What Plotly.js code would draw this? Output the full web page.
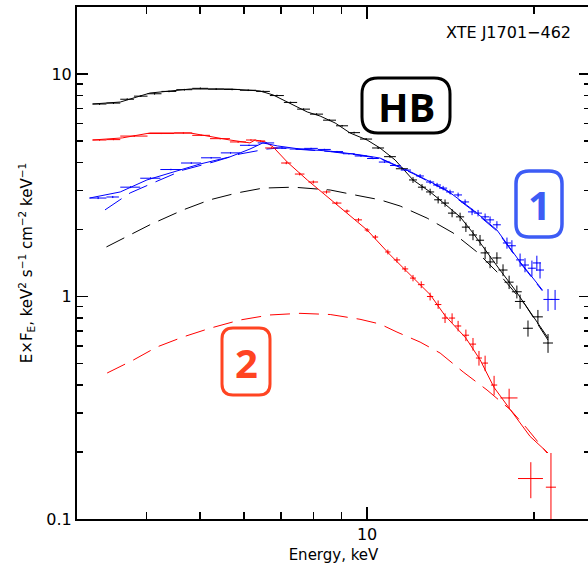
<!DOCTYPE html>
<html><head><meta charset="utf-8">
<script src="https://cdn.plot.ly/plotly-3.0.1.min.js"></script>
<style>html,body{margin:0;padding:0;overflow:hidden;background:#fff}#chart{width:592px;height:567px}</style>
</head><body><div id="chart"></div>
<script>
// ---- HB spectrum (black) ----
const E_hb = [3.295,3.49,3.695,3.91,4.14,4.395,4.685,5.005,5.345,5.71,6.105,6.495,6.88,7.28,7.685,8.11,8.56,9.015,9.475,9.96,10.47,11.0,11.56,12.10,12.56,12.99,13.43,13.82,14.23,14.71,15.07,15.52,15.98,16.32,16.66,17.14,17.58,18.03,18.62,18.87,19.50,20.32,21.19];
const dE_hb = [0.095,0.10,0.105,0.11,0.12,0.135,0.155,0.165,0.175,0.19,0.205,0.185,0.20,0.20,0.205,0.22,0.23,0.225,0.235,0.25,0.26,0.27,0.29,0.2,0.21,0.22,0.22,0.23,0.24,0.25,0.25,0.26,0.27,0.3,0.3,0.32,0.33,0.34,0.38,0.4,0.4,0.42,0.44];
const F_hb = [7.33,7.40,7.70,7.95,8.15,8.35,8.50,8.62,8.55,8.52,8.45,8.35,8.0,7.45,6.95,6.60,6.20,5.85,5.45,5.10,4.65,4.25,3.75,3.34,3.10,2.95,2.72,2.63,2.37,2.28,2.05,1.89,1.79,1.57,1.43,1.49,1.315,1.16,1.05,0.95,0.72,0.81,0.618];
const dF_hb = [0.07,0.07,0.07,0.07,0.07,0.07,0.07,0.07,0.07,0.07,0.07,0.07,0.07,0.06,0.06,0.06,0.06,0.05,0.05,0.05,0.05,0.05,0.05,0.1,0.1,0.1,0.1,0.1,0.1,0.1,0.1,0.1,0.1,0.1,0.09,0.09,0.08,0.08,0.07,0.07,0.06,0.06,0.06];
const Em_hb = [3.20,3.59,4.06,4.80,5.66,6.41,6.77,7.26,7.80,8.23,8.76,9.32,10.0,10.55,11.23,12.10,12.99,13.82,14.71,15.52,16.38,17.36,18.48,19.67,21.19];
const Fm_hb = [7.33,7.48,8.21,8.56,8.56,8.39,8.05,7.41,6.75,6.47,6.02,5.43,5.05,4.65,4.11,3.34,2.95,2.60,2.28,1.93,1.60,1.315,1.07,0.852,0.651];
const Ec_hb = [3.39,4.06,4.66,5.21,5.83,6.49,7.36,8.58,9.71,10.55,11.47,12.83,14.29,15.78,17.36,19.26,21.19];
const Fc_hb = [1.67,2.10,2.45,2.72,2.92,3.07,3.10,3.01,2.83,2.72,2.55,2.25,1.93,1.585,1.25,0.92,0.637];

// ---- state 1 (blue) ----
const E_1 = [3.275,3.48,3.745,4.07,4.43,4.82,5.235,5.675,6.125,6.575,7.025,7.475,7.925,8.375,8.825,9.275,9.75,10.25,10.75,11.25,11.75,12.46,12.99,13.37,13.71,14.11,14.59,15.02,15.46,15.85,16.32,16.66,17.14,17.87,18.24,18.87,19.26,19.82,20.23,20.50,21.19,21.82];
const dE_1 = [0.115,0.09,0.155,0.17,0.19,0.20,0.215,0.225,0.225,0.225,0.225,0.225,0.225,0.225,0.225,0.225,0.25,0.25,0.25,0.25,0.25,0.2,0.22,0.22,0.23,0.23,0.24,0.25,0.26,0.26,0.27,0.28,0.28,0.3,0.3,0.31,0.32,0.33,0.34,0.34,0.4,0.4];
const F_1 = [2.77,2.80,3.10,3.40,3.72,3.98,4.20,4.42,4.78,4.90,4.65,4.60,4.63,4.58,4.48,4.38,4.28,4.17,4.02,3.88,3.70,3.48,3.27,3.17,3.07,2.95,2.86,2.66,2.40,2.37,2.28,2.21,2.10,1.74,1.69,1.46,1.385,1.34,1.415,1.315,0.97,0.97];
const dF_1 = [0.03,0.03,0.03,0.03,0.03,0.03,0.03,0.03,0.03,0.03,0.03,0.03,0.03,0.03,0.03,0.03,0.03,0.03,0.03,0.03,0.03,0.07,0.07,0.07,0.07,0.07,0.07,0.07,0.08,0.08,0.08,0.08,0.08,0.1,0.1,0.1,0.1,0.11,0.11,0.11,0.11,0.1];
const Em_1 = [3.16,3.59,4.01,4.51,5.0,5.66,6.15,6.49,6.89,7.57,8.58,9.71,10.55,12.10,13.93,15.52,17.14,18.87,20.7];
const Fm_1 = [2.77,2.95,3.34,3.66,3.94,4.24,4.6,4.9,4.75,4.6,4.5,4.33,4.19,3.59,3.0,2.45,1.99,1.43,1.07];
const Ec_1 = [3.37,3.74,4.15,4.66,5.28,5.90,6.60,6.97,7.57,8.58,9.71,10.55,12.10,13.93,15.52,17.14,18.87,20.7];
const Fc_1 = [2.45,2.92,3.27,3.70,4.02,4.37,4.60,4.65,4.58,4.48,4.31,4.17,3.57,2.98,2.43,1.97,1.42,1.06];

// ---- state 2 (red) ----
const E_2 = [3.295,3.49,3.805,4.255,4.665,5.025,5.435,5.855,6.175,6.425,6.725,7.15,7.56,8.00,8.45,8.82,9.20,9.65,10.0,10.35,10.9,11.32,11.71,12.10,12.52,12.99,13.43,13.82,14.23,14.59,15.07,15.52,15.91,16.32,16.94,18.03,19.73,21.45];
const dE_2 = [0.095,0.10,0.215,0.235,0.175,0.185,0.225,0.195,0.125,0.125,0.175,0.15,0.15,0.16,0.14,0.17,0.10,0.14,0.10,0.12,0.12,0.15,0.15,0.15,0.17,0.17,0.18,0.18,0.18,0.19,0.2,0.2,0.2,0.2,0.22,0.64,1.02,0.45];
const F_2 = [5.05,5.07,5.26,5.40,5.43,5.30,5.12,4.95,5.05,5.00,4.65,3.98,3.55,3.27,2.95,2.63,2.42,2.21,1.99,1.85,1.585,1.46,1.33,1.21,1.13,1.00,0.92,0.80,0.80,0.737,0.67,0.611,0.529,0.502,0.40,0.35,0.152,0.139];
const dFup_2 = [0.03,0.03,0.03,0.03,0.03,0.03,0.03,0.03,0.03,0.03,0.03,0.05,0.05,0.05,0.05,0.04,0.04,0.04,0.04,0.04,0.04,0.04,0.04,0.04,0.04,0.04,0.04,0.04,0.04,0.04,0.04,0.04,0.04,0.04,0.04,0.035,0.028,0.059];
const dFdn_2 = [0.03,0.03,0.03,0.03,0.03,0.03,0.03,0.03,0.03,0.03,0.03,0.05,0.05,0.05,0.05,0.04,0.04,0.04,0.04,0.04,0.04,0.04,0.04,0.04,0.04,0.04,0.04,0.04,0.04,0.04,0.04,0.04,0.04,0.04,0.04,0.035,0.028,0.1];
const Em_2 = [3.20,3.62,4.06,4.80,5.66,6.15,6.28,6.55,6.77,7.18,7.80,8.58,9.32,10.0,11.0,12.10,12.99,13.82,15.07,15.98,16.94,18.12,19.67,21.19];
const Fm_2 = [5.05,5.16,5.43,5.43,5.05,4.9,5.05,4.95,4.70,4.02,3.34,2.74,2.32,1.99,1.54,1.21,1.02,0.82,0.65,0.52,0.39,0.31,0.235,0.198];
const Ec_2 = [3.40,3.79,4.18,4.66,5.21,5.90,6.68,7.57,8.58,9.71,10.55,11.32,12.46,13.54,14.9,16.45,18.12,19.4,21.1];
const Fc_2 = [0.453,0.518,0.593,0.658,0.72,0.784,0.826,0.84,0.83,0.79,0.752,0.692,0.624,0.557,0.458,0.38,0.31,0.256,0.198];

// ---- axes ----
const xTickVals = [10];
const xTickText = ['10'];
const xMinorVals = [3,4,5,6,7,8,9,20];
const yTickVals = [0.1,1,10];
const yTickText = ['0.1','1','10'];
const yMinorVals = [0.2,0.3,0.4,0.5,0.6,0.7,0.8,0.9,2,3,4,5,6,7,8,9,20];

const BLACK='#000000', RED='#ff0000', BLUE='#0000ff';

function dataTrace(E,F,dE,dFp,dFm,color){
  return {x:E,y:F,type:'scatter',mode:'markers',marker:{size:1,color:color},
    error_x:{type:'data',array:dE,symmetric:true,color:color,thickness:1,width:0},
    error_y:{type:'data',array:dFp,arrayminus:dFm,symmetric:false,color:color,thickness:1,width:0},
    hoverinfo:'skip',showlegend:false};
}
function lineTrace(E,F,color,dash){
  return {x:E,y:F,type:'scatter',mode:'lines',line:{color:color,width:1,dash:dash||'solid'},hoverinfo:'skip',showlegend:false};
}
const DASH='20px,9px';
const traces = [
  lineTrace(Ec_2,Fc_2,RED,DASH),
  lineTrace(Ec_hb,Fc_hb,BLACK,DASH),
  lineTrace(Ec_1,Fc_1,BLUE,DASH),
  lineTrace(Em_2,Fm_2,RED),
  lineTrace(Em_hb,Fm_hb,BLACK),
  lineTrace(Em_1,Fm_1,BLUE),
  dataTrace(E_2,F_2,dE_2,dFup_2,dFdn_2,RED),
  dataTrace(E_hb,F_hb,dE_hb,dF_hb,dF_hb,BLACK),
  dataTrace(E_1,F_1,dE_1,dF_1,dF_1,BLUE)
];

// plot area in pixels: x 77..590, y 7..519
const PL=77, PR=590, PT=7, PB=519;
function px(x){return (x-PL)/(PR-PL);}
function py(y){return (PB-y)/(PB-PT);}
function roundRect(x0,y0,x1,y1,r){
  const P=(x,y)=>px(x).toFixed(5)+','+py(y).toFixed(5);
  return 'M'+P(x0+r,y0)+' L'+P(x1-r,y0)+' Q'+P(x1,y0)+' '+P(x1,y0+r)+
    ' L'+P(x1,y1-r)+' Q'+P(x1,y1)+' '+P(x1-r,y1)+
    ' L'+P(x0+r,y1)+' Q'+P(x0,y1)+' '+P(x0,y1-r)+
    ' L'+P(x0,y0+r)+' Q'+P(x0,y0)+' '+P(x0+r,y0)+' Z';
}
const C1='#3d5cf5', C2='#ff4422';
const shapes = [
  {type:'path',xref:'paper',yref:'paper',path:roundRect(362,78,450,133,16),line:{color:'#000',width:3},fillcolor:'rgba(255,255,255,0)'},
  {type:'path',xref:'paper',yref:'paper',path:roundRect(516,171,562,237,13),line:{color:C1,width:3.5},fillcolor:'rgba(255,255,255,0)'},
  {type:'path',xref:'paper',yref:'paper',path:roundRect(222,328,270,395,11),line:{color:C2,width:3},fillcolor:'rgba(255,255,255,0)'}
];
const annotations = [
  {xref:'paper',yref:'paper',x:px(573),y:py(32),xanchor:'right',yanchor:'middle',showarrow:false,text:'XTE J1701\u2212462',font:{family:'DejaVu Sans',size:16,color:'#000'}},
  {xref:'paper',yref:'paper',x:px(406),y:py(106),xanchor:'center',yanchor:'middle',showarrow:false,text:'HB',font:{family:'Open Sans',size:40,weight:700,color:'#000'}},
  {xref:'paper',yref:'paper',x:px(539),y:py(204),xanchor:'center',yanchor:'middle',showarrow:false,text:'1',font:{family:'Open Sans',size:40,weight:700,color:C1}},
  {xref:'paper',yref:'paper',x:px(246),y:py(362),xanchor:'center',yanchor:'middle',showarrow:false,text:'2',font:{family:'Open Sans',size:40,weight:700,color:C2}}
];
const axisCommon = {type:'log',showgrid:false,zeroline:false,showline:true,linecolor:'#000',linewidth:2,
  mirror:'allticks',ticks:'inside',tickwidth:1.5,tickcolor:'#000',tickmode:'array',
  tickfont:{family:'DejaVu Sans',size:16,color:'#000'}};
const layout = {
  width:592,height:567,margin:{l:PL,r:592-PR,t:PT,b:567-PB},
  paper_bgcolor:'#fff',plot_bgcolor:'#fff',showlegend:false,
  xaxis:Object.assign({},axisCommon,{range:[Math.log10(3),1.4018],tickvals:xTickVals,ticktext:xTickText,ticklen:12,
    minor:{tickmode:'array',tickvals:xMinorVals,ticklen:7,tickwidth:1.5,tickcolor:'#000',ticks:'inside',showgrid:false},
    title:{text:'Energy, keV',font:{family:'DejaVu Sans',size:15,color:'#000'},standoff:6}}),
  yaxis:Object.assign({},axisCommon,{range:[-1,Math.log10(20)],tickvals:yTickVals,ticktext:yTickText,ticklen:11,
    minor:{tickmode:'array',tickvals:yMinorVals,ticklen:6,tickwidth:1.5,tickcolor:'#000',ticks:'inside',showgrid:false},
    title:{text:'E\u00d7F<sub>E</sub>, keV<sup>2</sup> s<sup>\u22121</sup> cm<sup>\u22122</sup> keV<sup>\u22121</sup>',font:{family:'DejaVu Sans',size:15,color:'#000'},standoff:10}}),
  shapes:shapes,annotations:annotations
};
Plotly.newPlot('chart',traces,layout,{staticPlot:true,displayModeBar:false});
</script></body></html>
